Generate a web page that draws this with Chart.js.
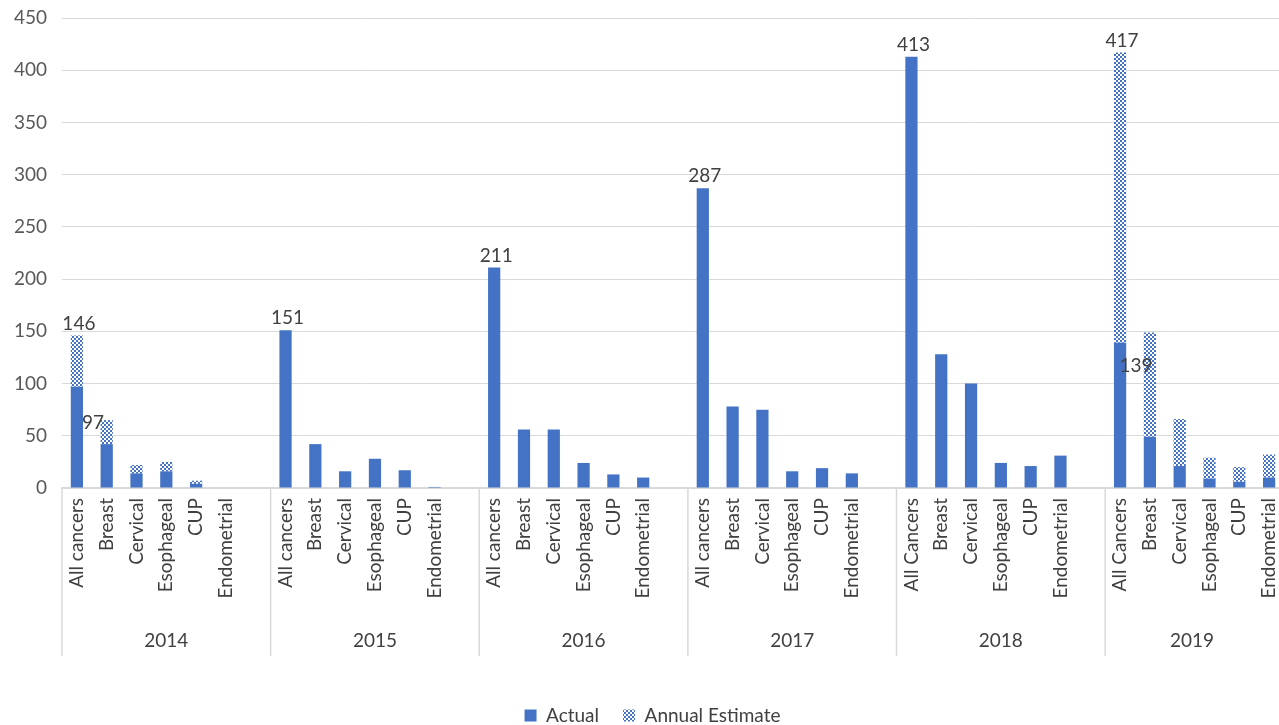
<!DOCTYPE html>
<html><head><meta charset="utf-8">
<script src="https://cdn.jsdelivr.net/npm/chart.js@4/dist/chart.umd.min.js"></script>
<style>html,body{margin:0;padding:0;background:#fff;}#wrap{width:1279px;height:725px;}</style>
</head><body><div id="wrap"><canvas id="c" width="1279" height="725"></canvas></div>
<script>
const years = ['2014','2015','2016','2017','2018','2019'];
const categories2014 = ['All cancers','Breast','Cervical','Esophageal','CUP','Endometrial'];
const categories2015 = ['All cancers','Breast','Cervical','Esophageal','CUP','Endometrial'];
const categories2016 = ['All cancers','Breast','Cervical','Esophageal','CUP','Endometrial'];
const categories2017 = ['All cancers','Breast','Cervical','Esophageal','CUP','Endometrial'];
const categories2018 = ['All Cancers','Breast','Cervical','Esophageal','CUP','Endometrial'];
const categories2019 = ['All Cancers','Breast','Cervical','Esophageal','CUP','Endometrial'];

const actual2014 = [97, 42, 14, 16, 4, 0];
const actual2015 = [151, 42, 16, 28, 17, 1];
const actual2016 = [211, 56, 56, 24, 13, 10];
const actual2017 = [287, 78, 75, 16, 19, 14];
const actual2018 = [413, 128, 100, 24, 21, 31];
const actual2019 = [139, 49, 21, 9, 6, 10];

const estimate2014 = [49, 23, 8, 9, 3, 0];
const estimate2015 = [0, 0, 0, 0, 0, 0];
const estimate2016 = [0, 0, 0, 0, 0, 0];
const estimate2017 = [0, 0, 0, 0, 0, 0];
const estimate2018 = [0, 0, 0, 0, 0, 0];
const estimate2019 = [278, 100, 45, 20, 14, 22];

const yTicks = [0, 50, 100, 150, 200, 250, 300, 350, 400, 450];

// ---- build flat arrays (blank slot between year groups) ----
const groupCats = [categories2014, categories2015, categories2016, categories2017, categories2018, categories2019];
const groupAct = [actual2014, actual2015, actual2016, actual2017, actual2018, actual2019];
const groupEst = [estimate2014, estimate2015, estimate2016, estimate2017, estimate2018, estimate2019];
const labels = [], actualData = [], estimateData = [], groupStart = [];
groupCats.forEach((cats, g) => {
  groupStart.push(labels.length);
  cats.forEach((c, i) => { labels.push(c); actualData.push(groupAct[g][i]); estimateData.push(groupEst[g][i]); });
  if (g < groupCats.length - 1) { labels.push(''); actualData.push(null); estimateData.push(null); }
});

const FONT = 'Lato, "Open Sans", sans-serif';
const BLUE = '#4472C4';
const TXT = '#404040';

function makePattern() {
  const p = document.createElement('canvas');
  p.width = 4; p.height = 4;
  const g = p.getContext('2d');
  g.fillStyle = '#ffffff'; g.fillRect(0, 0, 4, 4);
  g.fillStyle = BLUE;
  g.fillRect(0, 0, 2, 2); g.fillRect(2, 2, 2, 2);
  return g.createPattern(p, 'repeat');
}
const pattern = makePattern();

const groupsPlugin = {
  id: 'groups',
  afterLayout(chart) {
    // legend sits slightly right of centre in the reference
    if (chart.legend) { chart.legend.left += 13; chart.legend.right += 13; }
    // the reference plot area runs a few pixels past the right edge of the picture
    const x = chart.scales.x, extra = 5;
    x.right += extra; x.width += extra;
    chart.chartArea.right += extra; chart.chartArea.width += extra;
    if (x.configure) x.configure();
  },
  afterDraw(chart) {
    const ctx = chart.ctx, x = chart.scales.x;
    const step = (x.getPixelForValue(1) - x.getPixelForValue(0));
    ctx.save();
    ctx.strokeStyle = '#d9d9d9'; ctx.lineWidth = 1.5;
    const bounds = groupStart.map(s => x.getPixelForValue(s) - step / 2);
    bounds.forEach(b => {
      ctx.beginPath(); ctx.moveTo(b, x.top); ctx.lineTo(b, x.top + 168); ctx.stroke();
    });
    ctx.fillStyle = TXT; ctx.font = '19px ' + FONT; ctx.textAlign = 'center'; ctx.textBaseline = 'middle';
    years.forEach((yr, g) => {
      const a = bounds[g];
      const b = g < years.length - 1 ? bounds[g + 1] : chart.width;
      ctx.fillText(yr, (a + b) / 2, x.top + 153);
    });
    ctx.restore();
  }
};

const labelsPlugin = {
  id: 'valueLabels',
  afterDatasetsDraw(chart, args, opts) {
    const ctx = chart.ctx, y = chart.scales.y;
    const m0 = chart.getDatasetMeta(0);
    ctx.save();
    ctx.fillStyle = TXT; ctx.font = '19px ' + FONT; ctx.textAlign = 'center'; ctx.textBaseline = 'middle';
    groupStart.forEach((s, g) => {
      const total = (actualData[s] || 0) + (estimateData[s] || 0);
      const bar = m0.data[s];
      ctx.fillText(String(total), bar.x + 2, y.getPixelForValue(total) - 12);
      if (estimateData[s] > 0) {
        const off = opts.actualOffsets[g] || [16, 30];
        ctx.fillText(String(actualData[s]), bar.x + off[0], y.getPixelForValue(actualData[s]) + off[1]);
      }
    });
    ctx.restore();
  }
};

new Chart(document.getElementById('c'), {
  type: 'bar',
  data: {
    labels: labels,
    datasets: [
      { label: 'Actual', data: actualData, backgroundColor: BLUE, stack: 's',
        barPercentage: 0.41, categoryPercentage: 1.0 },
      { label: 'Annual Estimate', data: estimateData, backgroundColor: pattern, stack: 's',
        barPercentage: 0.41, categoryPercentage: 1.0 }
    ]
  },
  options: {
    responsive: false,
    animation: false,
    devicePixelRatio: 1,
    layout: { padding: { top: 18, left: 0, right: 0, bottom: -10 } },
    plugins: {
      legend: {
        position: 'bottom',
        labels: { font: { family: FONT, size: 19 }, color: TXT, boxWidth: 12, boxHeight: 12, padding: 24 }
      },
      tooltip: { enabled: false },
      valueLabels: { actualOffsets: { 0: [16, 36], 5: [16, 23] } }
    },
    scales: {
      x: {
        stacked: true,
        grid: { display: false, drawTicks: false },
        border: { display: true, color: '#d9d9d9', width: 2 },
        ticks: { autoSkip: false, minRotation: 90, maxRotation: 90, font: { family: FONT, size: 19 }, color: TXT, padding: 10 },
        afterFit(s) { s.height = 194; s.paddingLeft = 0; s.paddingRight = 0; }
      },
      y: {
        stacked: true, min: 0, max: 450,
        afterBuildTicks(s) { s.ticks = yTicks.map(v => ({ value: v })); },
        grid: { color: '#d9d9d9', lineWidth: 1, drawTicks: false },
        border: { display: false },
        ticks: { font: { family: FONT, size: 19 }, color: '#595959', padding: 15 },
        afterFit(s) { s.width = 62; s.paddingTop = 0; s.paddingBottom = 0; }
      }
    }
  },
  plugins: [groupsPlugin, labelsPlugin]
});
</script></body></html>
